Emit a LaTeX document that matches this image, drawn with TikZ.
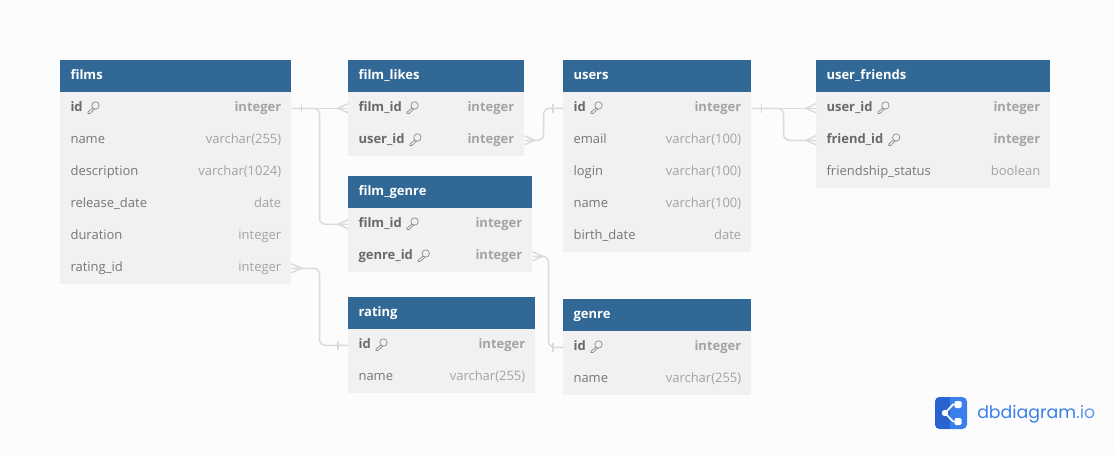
\documentclass[tikz,border=0pt]{standalone}
\usepackage{fontspec}
\setmainfont{Open Sans}
\newfontfamily\logofont{Poppins}
\definecolor{pagebg}{HTML}{FCFCFC}
\definecolor{headblue}{HTML}{316896}
\definecolor{rowgray}{HTML}{F1F1F1}
\definecolor{keytext}{HTML}{6A6A6A}
\definecolor{nametext}{HTML}{777777}
\definecolor{typetext}{HTML}{A3A3A3}
\definecolor{linegray}{HTML}{DADADA}
\definecolor{logoblue}{HTML}{3B7FEA}
\definecolor{logodark}{HTML}{2A63CF}
\tikzset{
    tablehead/.style = {fill = headblue, anchor = north west, minimum height = 24pt, inner sep = 0pt},
    headlabel/.style = {text = white, font = \fontsize{9.75pt}{12pt}\selectfont\bfseries, inner sep = 0pt, text height = 7.5pt, text depth = 2.2pt},
    rowbox/.style = {fill = rowgray, anchor = north west, minimum height = 24pt, inner sep = 0pt},
    keylabel/.style = {text = keytext, font = \fontsize{9.75pt}{12pt}\selectfont\bfseries, inner sep = 0pt, text height = 7.5pt, text depth = 2.2pt},
    namelabel/.style = {text = nametext, font = \fontsize{9.75pt}{12pt}\selectfont, inner sep = 0pt, text height = 7.5pt, text depth = 2.2pt},
    keytype/.style = {text = typetext, font = \fontsize{9.75pt}{12pt}\selectfont\bfseries, inner sep = 0pt, text height = 7.5pt, text depth = 2.2pt},
    plaintype/.style = {text = typetext, font = \fontsize{9.75pt}{12pt}\selectfont, inner sep = 0pt, text height = 7.5pt, text depth = 2.2pt},
    relline/.style = {draw = linegray, line width = 1.1pt},
    keyicon/.pic = {
        \draw[keytext!80, line width = 0.5pt] (8.5,-2.8) circle (3.7);
        \draw[keytext!80, line width = 0.5pt] (5.9,-0.2) -- (1,3.8) -- (1,5.2) -- (3,5.2) -- (7.6,0.8);
    }
}
% table head, then the two kinds of row
\newcommand{\tablehead}[4]{
    \node[tablehead, minimum width = #3*0.75pt] (#1) at (#2) {};
    \node[headlabel, anchor = west] (#1-title) at ([xshift = 7.7pt]#1.west) {#4};
}
\newcommand{\keyrow}[5]{
    \node[rowbox, minimum width = #3*0.75pt] (#1) at (#2) {};
    \node[keylabel, anchor = west] (#1-label) at ([xshift = 7.7pt]#1.west) {#4};
    \node[keytype, anchor = east] (#1-type) at ([xshift = -7.5pt]#1.east) {#5};
    \pic at ([xshift = 3pt]#1-label.east) {keyicon};
}
\newcommand{\plainrow}[5]{
    \node[rowbox, minimum width = #3*0.75pt] (#1) at (#2) {};
    \node[namelabel, anchor = west] (#1-label) at ([xshift = 7.7pt]#1.west) {#4};
    \node[plaintype, anchor = east] (#1-type) at ([xshift = -7.5pt]#1.east) {#5};
}
\begin{document}
\begin{tikzpicture}[x = 0.75pt, y = -0.75pt]
    \fill[pagebg] (0,0) rectangle (1114,455);
    \useasboundingbox (0,0) rectangle (1114,455);
    % films
    \tablehead{films}{60,60}{231}{films}
    \keyrow{films-id}{60,92}{231}{id}{integer}
    \plainrow{films-name}{60,124}{231}{name}{varchar(255)}
    \plainrow{films-description}{60,156}{231}{description}{varchar(1024)}
    \plainrow{films-release_date}{60,188}{231}{release\_date}{date}
    \plainrow{films-duration}{60,220}{231}{duration}{integer}
    \plainrow{films-rating_id}{60,252}{231}{rating\_id}{integer}
    % film_likes
    \tablehead{film_likes}{348,60}{176}{film\_likes}
    \keyrow{film_likes-film_id}{348,92}{176}{film\_id}{integer}
    \keyrow{film_likes-user_id}{348,124}{176}{user\_id}{integer}
    % film_genre
    \tablehead{film_genre}{348,176}{184}{film\_genre}
    \keyrow{film_genre-film_id}{348,208}{184}{film\_id}{integer}
    \keyrow{film_genre-genre_id}{348,240}{184}{genre\_id}{integer}
    % rating
    \tablehead{rating}{348,297}{187}{rating}
    \keyrow{rating-id}{348,329}{187}{id}{integer}
    \plainrow{rating-name}{348,361}{187}{name}{varchar(255)}
    % users
    \tablehead{users}{563,60}{188}{users}
    \keyrow{users-id}{563,92}{188}{id}{integer}
    \plainrow{users-email}{563,124}{188}{email}{varchar(100)}
    \plainrow{users-login}{563,156}{188}{login}{varchar(100)}
    \plainrow{users-name}{563,188}{188}{name}{varchar(100)}
    \plainrow{users-birth_date}{563,220}{188}{birth\_date}{date}
    % genre
    \tablehead{genre}{563,299}{188}{genre}
    \keyrow{genre-id}{563,331}{188}{id}{integer}
    \plainrow{genre-name}{563,363}{188}{name}{varchar(255)}
    % user_friends
    \tablehead{user_friends}{816,60}{234}{user\_friends}
    \keyrow{user_friends-user_id}{816,92}{234}{user\_id}{integer}
    \keyrow{user_friends-friend_id}{816,124}{234}{friend\_id}{integer}
    \plainrow{user_friends-status}{816,156}{234}{friendship\_status}{boolean}
    % relations
    \draw[relline] (films-id.east) -- (film_likes-film_id.west);
    \draw[relline, rounded corners = 4.5pt] (films-id.east) -- ++(28,0) |- (film_genre-film_id.west);
    \draw[relline, rounded corners = 4.5pt] (films-rating_id.east) -- ++(28,0) |- (rating-id.west);
    \draw[relline, rounded corners = 4.5pt] (film_likes-user_id.east) -- ++(19,0) |- (users-id.west);
    \draw[relline, rounded corners = 4.5pt] (film_genre-genre_id.east) -- ++(16,0) |- (genre-id.west);
    \draw[relline] (users-id.east) -- (user_friends-user_id.west);
    \draw[relline, rounded corners = 4.5pt] (users-id.east) -- ++(32,0) |- (user_friends-friend_id.west);
    % single ends
    \foreach \n in {films-id, users-id}
        \draw[relline] (\n.east) ++(10,-4.5) -- ++(0,9);
    \foreach \n in {rating-id, users-id, genre-id}
        \draw[relline] (\n.west) ++(-10,-4.5) -- ++(0,9);
    % many ends
    \foreach \n in {film_likes-film_id, film_genre-film_id, user_friends-user_id, user_friends-friend_id}
        \draw[relline] (\n.west) ++(0,-4.5) -- ++(-10,4.5) -- ++(10,4.5);
    \foreach \n in {films-rating_id, film_likes-user_id, film_genre-genre_id}
        \draw[relline] (\n.east) ++(0,-4.5) -- ++(10,4.5) -- ++(-10,4.5);
    % logo
    \fill[logoblue, rounded corners = 3.5pt] (935,397) rectangle (967,429);
    \begin{scope}
        \clip[rounded corners = 3.5pt] (935,397) rectangle (967,429);
        \fill[logodark] (935,397) rectangle (950,429);
    \end{scope}
    \draw[white, line width = 1.3pt] (958,404.5) -- (953,404.5) -- (945,413) -- (953,421.5) -- (958,421.5);
    \fill[white] (945,413) circle (3.2);
    \fill[white, rounded corners = 1pt] (954.5,401) rectangle (961.5,408) (954.5,418) rectangle (961.5,425);
    \node[text = logoblue, font = \logofont\fontsize{13pt}{15pt}\selectfont, inner sep = 0pt, anchor = west] (logotext) at (977,414) {dbdiagram\textcolor{logoblue!80}{.io}};
\end{tikzpicture}
\end{document}
